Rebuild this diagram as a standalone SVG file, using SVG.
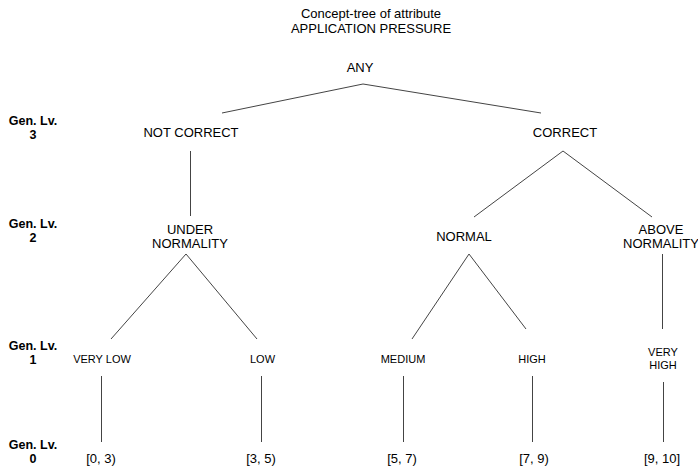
<svg xmlns="http://www.w3.org/2000/svg" width="698" height="471" viewBox="0 0 698 471">
<style>
text{font-family:"Liberation Sans",Arial,Helvetica,sans-serif;fill:#000;text-anchor:middle}
.n{font-size:13px}
.s{font-size:11px}
.g{font-size:12.5px;font-weight:bold}
.e line{stroke:#444;stroke-width:1;fill:none}
</style>
<rect width="698" height="471" fill="#fff"/>
<g id="title">
<text class="n" x="371" y="18">Concept-tree of attribute</text>
<text class="n" x="371" y="33">APPLICATION PRESSURE</text>
</g>
<g id="levels">
<text class="g" x="33" y="125">Gen. Lv.</text><text class="g" x="33" y="139">3</text>
<text class="g" x="33" y="228">Gen. Lv.</text><text class="g" x="33" y="242">2</text>
<text class="g" x="33" y="350">Gen. Lv.</text><text class="g" x="33" y="364">1</text>
<text class="g" x="33" y="449">Gen. Lv.</text><text class="g" x="33" y="463">0</text>
</g>
<g class="e" id="edges">
<line x1="363" y1="84" x2="222" y2="113"/>
<line x1="363" y1="84" x2="541" y2="113"/>
<line x1="190.5" y1="151" x2="190.5" y2="216"/>
<line x1="563" y1="151" x2="474" y2="217"/>
<line x1="563" y1="151" x2="652" y2="217"/>
<line x1="186" y1="254" x2="111" y2="339"/>
<line x1="186" y1="254" x2="257" y2="339"/>
<line x1="469" y1="254" x2="412" y2="339"/>
<line x1="469" y1="254" x2="526" y2="329"/>
<line x1="662.5" y1="254" x2="662.5" y2="329"/>
<line x1="101.5" y1="376" x2="101.5" y2="442"/>
<line x1="261.5" y1="376" x2="261.5" y2="442"/>
<line x1="403.5" y1="376" x2="403.5" y2="442"/>
<line x1="532.5" y1="376" x2="532.5" y2="442"/>
<line x1="663.5" y1="382" x2="663.5" y2="442"/>
</g>
<g id="any"><text class="n" x="360" y="72">ANY</text></g>
<g id="not-correct"><text class="n" x="191" y="137">NOT CORRECT</text></g>
<g id="correct"><text class="n" x="565" y="137">CORRECT</text></g>
<g id="under-normality"><text class="n" x="190" y="234">UNDER</text><text class="n" x="190" y="248">NORMALITY</text></g>
<g id="normal"><text class="n" x="464" y="241">NORMAL</text></g>
<g id="above-normality"><text class="n" x="661" y="234">ABOVE</text><text class="n" x="661" y="248">NORMALITY</text></g>
<g id="very-low"><text class="s" x="102" y="363">VERY LOW</text></g>
<g id="low"><text class="s" x="262.5" y="363">LOW</text></g>
<g id="medium"><text class="s" x="403" y="363">MEDIUM</text></g>
<g id="high"><text class="s" x="532" y="363">HIGH</text></g>
<g id="very-high"><text class="s" x="663" y="356">VERY</text><text class="s" x="663" y="369">HIGH</text></g>
<g id="r0"><text class="n" x="101" y="463">[0, 3)</text></g>
<g id="r1"><text class="n" x="261" y="463">[3, 5)</text></g>
<g id="r2"><text class="n" x="402" y="463">[5, 7)</text></g>
<g id="r3"><text class="n" x="534" y="463">[7, 9)</text></g>
<g id="r4"><text class="n" x="662" y="463">[9, 10]</text></g>
</svg>
